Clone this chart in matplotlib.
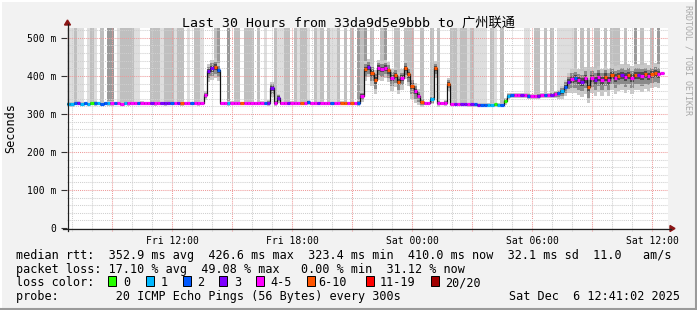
import numpy as np
import matplotlib.pyplot as plt
from matplotlib.patches import Rectangle, Polygon
from matplotlib.lines import Line2D

plt.rcParams['font.family'] = ['DejaVu Sans Mono', 'Noto Sans CJK SC']

W, H = 697, 310

# time base: one value per 10 minutes, first one at Fri 06:44 (hours after Fri 00:00)
start_hour = 6.735
step_hours = 1 / 6
span_hours = 30.05

tick_hours = [12, 18, 24, 30, 36]
tick_labels = ["Fri 12:00", "Fri 18:00", "Sat 00:00", "Sat 06:00", "Sat 12:00"]
y_ticks = [0, 100, 200, 300, 400, 500]
y_labels = ["0", "100 m", "200 m", "300 m", "400 m", "500 m"]

# median rtt in ms, 10 min steps
median_ms = [
    327, 326, 328, 329, 327, 328, 326, 328, 329, 328, 327, 328,
    328, 329, 328, 328, 327, 328, 329, 328, 328, 328, 329, 328,
    328, 328, 329, 328, 328, 329, 328, 328, 328, 329, 328, 328,
    328, 328, 328, 329, 328, 350, 412, 420, 424, 415, 328, 328,
    328, 329, 328, 328, 328, 329, 328, 328, 328, 328, 329, 328,
    330, 368, 330, 343, 328, 328, 328, 329, 328, 328, 328, 328,
    331, 328, 328, 328, 329, 328, 328, 328, 328, 328, 329, 328,
    328, 328, 328, 330, 348, 418, 424, 408, 389, 421, 418, 422,
    415, 395, 402, 385, 395, 421, 404, 374, 360, 348, 332, 328,
    328, 339, 421, 330, 328, 330, 380, 327, 326, 326, 326, 326,
    325, 325, 325, 324, 324, 324, 324, 324, 325, 324, 324, 335,
    348, 349, 350, 350, 349, 349, 348, 347, 347, 348, 349, 350,
    350, 351, 353, 354, 359, 372, 385, 392, 394, 389, 385, 394,
    370, 395, 389, 398, 389, 398, 389, 403, 395, 400, 403, 398,
    403, 395, 403, 403, 400, 405, 400, 405, 407, 405, 407, np.nan,
]

# loss class per step (index into loss_labels)
loss_class = [
    1, 1, 2, 3, 1, 2, 1, 0, 2, 1, 2, 2,
    1, 4, 2, 4, 4, 1, 4, 4, 4, 2, 4, 4,
    4, 3, 4, 4, 3, 3, 3, 2, 4, 3, 5, 4,
    4, 2, 4, 4, 4, 4, 3, 3, 5, 2, 4, 4,
    1, 4, 4, 4, 5, 4, 4, 4, 4, 4, 4, 2,
    3, 3, 4, 3, 4, 4, 3, 4, 4, 4, 5, 4,
    2, 4, 4, 3, 4, 4, 4, 2, 4, 4, 5, 5,
    4, 5, 4, 2, 4, 5, 3, 5, 5, 4, 4, 4,
    5, 4, 5, 5, 4, 5, 5, 5, 4, 4, 5, 4,
    4, 1, 5, 4, 4, 4, 5, 4, 3, 4, 3, 3,
    4, 3, 2, 3, 2, 2, 1, 1, 0, 1, 2, 0,
    1, 2, 4, 4, 3, 4, 2, 4, 4, 3, 4, 2,
    4, 3, 4, 2, 1, 2, 3, 4, 2, 4, 3, 4,
    5, 4, 3, 4, 4, 5, 4, 5, 4, 5, 3, 4,
    5, 4, 5, 3, 4, 5, 4, 5, 5, 4, 4, 0,
]

# smoke spread around the median, ms
smoke_ms = [
    4, 5, 4, 4, 5, 4, 4, 4, 5, 4, 4, 4,
    5, 5, 4, 4, 4, 4, 5, 4, 4, 4, 4, 4,
    4, 4, 5, 4, 4, 5, 4, 4, 4, 4, 5, 4,
    4, 4, 4, 5, 4, 10, 20, 22, 22, 20, 4, 4,
    6, 4, 4, 4, 4, 4, 4, 4, 4, 4, 4, 4,
    6, 16, 6, 10, 4, 4, 4, 4, 4, 4, 4, 4,
    6, 4, 4, 4, 4, 4, 4, 4, 4, 4, 4, 4,
    4, 4, 4, 6, 12, 22, 20, 24, 26, 22, 22, 20,
    22, 24, 22, 24, 22, 20, 22, 24, 22, 18, 10, 4,
    4, 10, 18, 8, 4, 6, 14, 4, 4, 4, 4, 4,
    4, 4, 4, 4, 4, 4, 4, 4, 4, 4, 4, 8,
    6, 6, 6, 6, 6, 6, 6, 6, 6, 6, 6, 6,
    6, 6, 8, 10, 14, 18, 22, 26, 28, 28, 28, 30,
    30, 28, 30, 28, 30, 28, 30, 28, 30, 28, 28, 30,
    28, 30, 28, 28, 30, 28, 28, 26, 26, 26, 24, 0,
]

# pings far off the scale per step (0 none .. 3 many)
high_pings = [
    1, 1, 2, 1, 1, 0, 1, 2, 1, 0, 2, 0,
    3, 3, 0, 1, 2, 2, 2, 2, 1, 1, 0, 0,
    0, 2, 2, 2, 1, 2, 2, 2, 1, 2, 2, 0,
    1, 0, 2, 2, 1, 0, 0, 0, 2, 3, 0, 0,
    3, 0, 2, 2, 0, 2, 2, 2, 0, 2, 0, 1,
    0, 0, 2, 1, 1, 2, 2, 0, 2, 1, 2, 2,
    1, 0, 2, 1, 2, 0, 2, 1, 1, 2, 0, 2,
    0, 2, 0, 3, 2, 3, 0, 2, 0, 0, 2, 3,
    0, 0, 2, 2, 0, 2, 2, 2, 0, 0, 2, 0,
    0, 2, 0, 2, 0, 0, 0, 2, 2, 1, 2, 2,
    1, 2, 1, 1, 1, 1, 0, 2, 1, 0, 2, 0,
    0, 0, 0, 0, 0, 1, 1, 0, 2, 2, 0, 2,
    0, 2, 0, 1, 1, 1, 1, 1, 2, 0, 2, 0,
    2, 0, 2, 2, 0, 2, 0, 2, 2, 2, 0, 2,
    0, 0, 3, 0, 2, 0, 0, 2, 0, 3, 0, 0,
]

loss_labels = ["0", "1", "2", "3", "4-5", "6-10", "11-19", "20/20"]
loss_colors = ["#26ff00", "#00b8ff", "#0059ff", "#7e00ff",
               "#ff00ff", "#ff5500", "#ff0000", "#a10000"]
high_shades = [None, "#dedede", "#bfbfbf", "#9a9a9a"]

title = "Last 30 Hours from 33da9d5e9bbb to 广州联通"
line_rtt = "median rtt:  352.9 ms avg  426.6 ms max  323.4 ms min  410.0 ms now  32.1 ms sd  11.0   am/s"
line_loss = "packet loss: 17.10 % avg  49.08 % max   0.00 % min  31.12 % now"
line_probe = "probe:        20 ICMP Echo Pings (56 Bytes) every 300s"
stamp = "Sat Dec  6 12:41:02 2025"

med = np.array(median_ms, dtype=float)
smoke = np.array(smoke_ms, dtype=float)
n = len(med)
t = start_hour + np.arange(n) * step_hours
t_edges = start_hour + np.arange(n + 1) * step_hours
ok = ~np.isnan(med)

fig = plt.figure(figsize=(W / 100, H / 100), dpi=100, facecolor="#f2f2f2")
ax = fig.add_axes([67 / W, 82 / H, 601 / W, 200 / H])
ax.set_facecolor("white")
ax.set_xlim(start_hour, start_hour + span_hours)
ax.set_ylim(0, 526)
for s in ax.spines.values():
    s.set_visible(False)

# off-scale pings: bars from the median to the top
for lvl in (1, 2, 3):
    sel = ok & (np.array(high_pings) == lvl)
    ax.bar(t[sel], 600 - med[sel], bottom=med[sel], width=step_hours,
           align="edge", color=high_shades[lvl], linewidth=0, zorder=1)

# smoke layers
def ext(a):
    return np.append(a, a[-1])

for lo_f, hi_f, col in [(1.4, 1.0, "#c8c8c8"), (0.9, 0.6, "#8a8a8a"), (0.4, 0.3, "#4a4a4a")]:
    lo = np.where(ok, med - smoke * lo_f, np.nan)
    hi = np.where(ok, med + smoke * hi_f, np.nan)
    ax.fill_between(t_edges, ext(lo), ext(hi), step="post", color=col,
                    linewidth=0, zorder=1.5)

# grid
dots = (0, (1, 1))
for hr in range(7, 37):
    major = hr % 3 == 0
    ax.axvline(hr, ymin=-0.015, ymax=1, color="#ee9a9a" if major else "#cfcfcf",
               lw=0.75, ls=dots, clip_on=False, zorder=2)
for v in range(20, 526, 20):
    major = v % 100 == 0
    ax.axhline(v, color="#ee9a9a" if major else "#cfcfcf", lw=0.75, ls=dots, zorder=2)

# median: thin black staircase + coloured loss segments
ax.step(t_edges[:-1][ok], med[ok], where="post", color="#101010", lw=0.9, zorder=3)
last = np.where(ok)[0][-1]
ax.hlines(med[last], t[last], t[last] + step_hours, color="#101010", lw=0.9, zorder=3)
for i in np.where(ok)[0]:
    ax.hlines(med[i], t[i], t[i] + step_hours, color=loss_colors[loss_class[i]],
              lw=2.3, zorder=4)

ax.set_yticks(y_ticks, y_labels)
ax.set_xticks(tick_hours, tick_labels)
ax.tick_params(axis="y", length=4, width=0.8, color="#333333", labelsize=7, pad=3.5)
ax.tick_params(axis="x", length=0, labelsize=7, pad=5.5)


def fx(x):
    return x / W


def fy(y):
    return 1 - y / H


# axes with arrows
fig.add_artist(Line2D([fx(63), fx(671)], [fy(228.5), fy(228.5)], color="#202020", lw=0.9))
fig.add_artist(Line2D([fx(67.5), fx(67.5)], [fy(231), fy(24)], color="#202020", lw=0.9))
fig.add_artist(Polygon([(fx(675), fy(228.5)), (fx(670), fy(225.5)), (fx(670), fy(231.5))],
                       closed=True, color="#8b1515", transform=fig.transFigure))
fig.add_artist(Polygon([(fx(67.5), fy(20)), (fx(64.5), fy(25)), (fx(70.5), fy(25))],
                       closed=True, color="#8b1515", transform=fig.transFigure))

# frame shading
fig.add_artist(Line2D([fx(0.5), fx(0.5)], [0, 1], color="white", lw=1.5))
fig.add_artist(Line2D([0, 1], [fy(0.5), fy(0.5)], color="white", lw=1.5))
fig.add_artist(Line2D([fx(696), fx(696)], [0, 1], color="#9a9a9a", lw=1.5))
fig.add_artist(Line2D([0, 1], [fy(309), fy(309)], color="#9a9a9a", lw=1.5))

# texts
fig.text(fx(348), fy(27), title, ha="center", va="baseline", fontsize=9.5)
fig.text(fx(11), fy(128), "Seconds", rotation=90, ha="center", va="center", fontsize=8.5)
fig.text(fx(688), fy(60), "RRDTOOL / TOBI OETIKER", rotation=270, ha="center",
         va="center", fontsize=6, color="#a8a8a8")

fig.text(fx(16), fy(258.5), line_rtt, ha="left", va="baseline", fontsize=8.5)
fig.text(fx(16), fy(272.5), line_loss, ha="left", va="baseline", fontsize=8.5)
fig.text(fx(16), fy(286.5), "loss color:", ha="left", va="baseline", fontsize=8.5)
fig.text(fx(16), fy(300), line_probe, ha="left", va="baseline", fontsize=8.5)
fig.text(fx(680), fy(300), stamp, ha="right", va="baseline", fontsize=8.5)

swatch_x = [108.3, 145.7, 182.7, 219, 255.7, 307.3, 365.7, 430.7]
label_x = [123.3, 161, 197.3, 234.3, 270.7, 318.3, 380, 445]
for sx, lx, lab, col in zip(swatch_x, label_x, loss_labels, loss_colors):
    fig.add_artist(Rectangle((fx(sx), fy(286)), 8 / W, 10 / H, facecolor=col,
                             edgecolor="black", lw=0.7, transform=fig.transFigure))
    fig.text(fx(lx), fy(286.5), lab, ha="left", va="baseline", fontsize=8.5)

fig.savefig("out.png", dpi=100, facecolor=fig.get_facecolor())
